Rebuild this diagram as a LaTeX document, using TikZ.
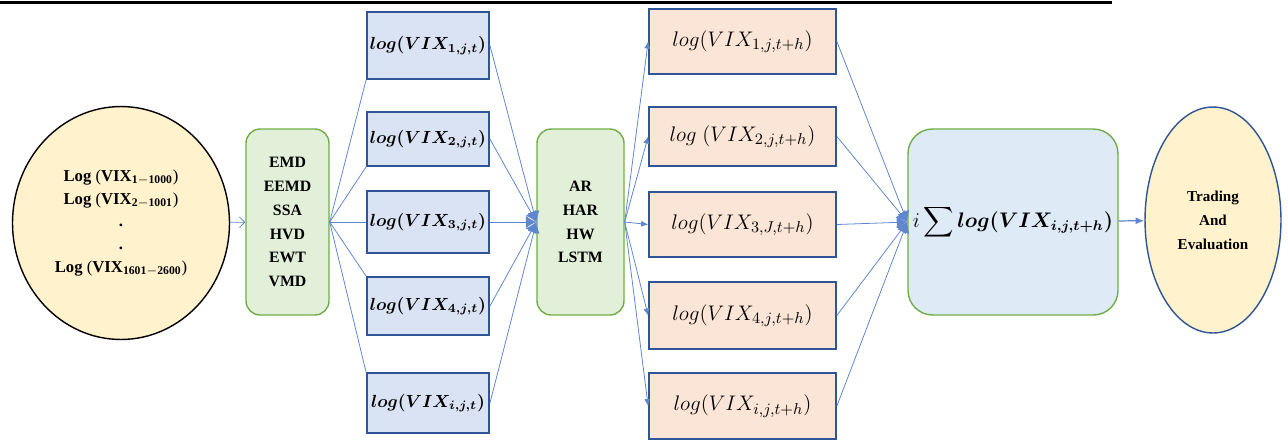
\documentclass[tikz,border=0pt]{standalone}
\usepackage{fontspec}
\setmainfont{Liberation Serif}
\usepackage{amsmath,bm}
\usetikzlibrary{shapes.geometric,arrows.meta}

\definecolor{edgeblue}{HTML}{4472C4}
\definecolor{boxblue}{HTML}{DAE3F3}
\definecolor{darkblue}{HTML}{2F5597}
\definecolor{peach}{HTML}{FBE5D6}
\definecolor{cream}{HTML}{FFF2CC}
\definecolor{leaf}{HTML}{70AD47}
\definecolor{mint}{HTML}{E2F0D9}
\definecolor{skyfill}{HTML}{DEEBF7}

\begin{document}
\begin{tikzpicture}[x=0.02cm,y=-0.02cm,
  wire/.style={draw=edgeblue!85, line width=0.45pt},
  method/.style={draw=leaf, line width=0.8pt, fill=mint, rounded corners=8pt,
    minimum width=1.66cm, minimum height=3.72cm, inner sep=0pt, align=center,
    font=\bfseries\fontsize{9}{13.6}\selectfont},
  series/.style={draw=darkblue, line width=1.1pt, fill=boxblue,
    minimum width=2.44cm, inner sep=0pt, font=\fontsize{10}{12}\selectfont},
  fcast/.style={draw=darkblue, line width=1pt, fill=peach,
    minimum width=3.74cm, inner sep=0pt, font=\fontsize{13}{15}\selectfont},
  oval/.style={ellipse, fill=cream, inner sep=0pt, align=center}]
  \useasboundingbox (0,0) rectangle (1288,441);

  \draw[line width=1.7pt] (0,2) -- (1112,2);

  % input series
  \node[oval, draw=black, line width=0.8pt, minimum width=4.34cm, minimum height=4.66cm,
    font=\fontsize{9.5}{13}\selectfont] (src) at (121,223)
    {\textbf{Log} (\textbf{VIX}$_{\mathbf{1-1000}}$)\\
     \textbf{Log} (\textbf{VIX}$_{\mathbf{2-1001}}$)\\
     \textbf{.}\\ \textbf{.}\\
     \textbf{Log} (\textbf{VIX}$_{\mathbf{1601-2600}}$)};

  % decomposition
  \node[method] (dec) at (287.5,222) {EMD\\EEMD\\SSA\\HVD\\EWT\\VMD};

  \node[series, minimum height=1.34cm] (b1) at (428,45.5) {$\bm{log(VIX_{1,j,t})}$};
  \node[series, minimum height=1.08cm] (b2) at (428,139) {$\bm{log(VIX_{2,j,t})}$};
  \node[series, minimum height=1.24cm] (b3) at (428,222) {$\bm{log(VIX_{3,j,t})}$};
  \node[series, minimum height=1.16cm] (b4) at (428,306) {$\bm{log(VIX_{4,j,t})}$};
  \node[series, minimum height=1.2cm] (b5) at (428,403) {$\bm{log(VIX_{i,j,t})}$};

  % models
  \node[method, minimum width=1.74cm] (mdl) at (580.5,222) {AR\\HAR\\HW\\LSTM};

  \node[fcast, minimum height=1.3cm] (f1) at (742.5,41.5) {$log(VIX_{1,j,t+h})$};
  \node[fcast, minimum height=1.18cm] (f2) at (742.5,136.5) {$log\ (VIX_{2,j,t+h})$};
  \node[fcast, minimum height=1.3cm] (f3) at (742.5,224.5) {$log(VIX_{3,J,t+h})$};
  \node[fcast, minimum height=1.34cm] (f4) at (742.5,315.5) {$log(VIX_{4,j,t+h})$};
  \node[fcast, minimum height=1.32cm] (f5) at (742.5,406) {$log(VIX_{i,j,t+h})$};

  % aggregation and output
  \node[method, fill=skyfill, minimum width=4.2cm, rounded corners=14pt,
    font=\fontsize{11.5}{14}\selectfont] (agg) at (1013,222)
    {$i\displaystyle\sum\bm{log(VIX_{i,j,t+h})}$};
  \node[oval, draw=darkblue, line width=0.8pt, minimum width=2.72cm, minimum height=4.52cm,
    font=\bfseries\fontsize{8.6}{13.6}\selectfont] (out) at (1213,220)
    {Trading\\And\\Evaluation};

  \draw[wire, -{Straight Barb[length=3pt,width=6pt]}] (src) -- (dec);
  \foreach \b/\a in {b1/south west, b2/south west, b3/west, b4/north west, b5/north west}
    \draw[wire] (dec.east) -- (\b.\a);
  \foreach \b in {b1,b2,b3,b4,b5}
    \draw[wire, -{Latex[length=6pt,width=7pt]}] (\b.east) -- (mdl.west);
  \foreach \f in {f1,f2,f3,f4,f5}
    \draw[wire, -{Latex[length=4pt,width=3.5pt]}] (mdl.east) -- (\f.west);
  \foreach \f in {f1,f2,f3,f4,f5}
    \draw[wire, -{Latex[length=6pt,width=7pt]}] (\f.east) -- (agg.west);
  \draw[wire, line width=0.7pt, -{Latex[length=5pt,width=4pt]}] (agg) -- (out);
\end{tikzpicture}
\end{document}
